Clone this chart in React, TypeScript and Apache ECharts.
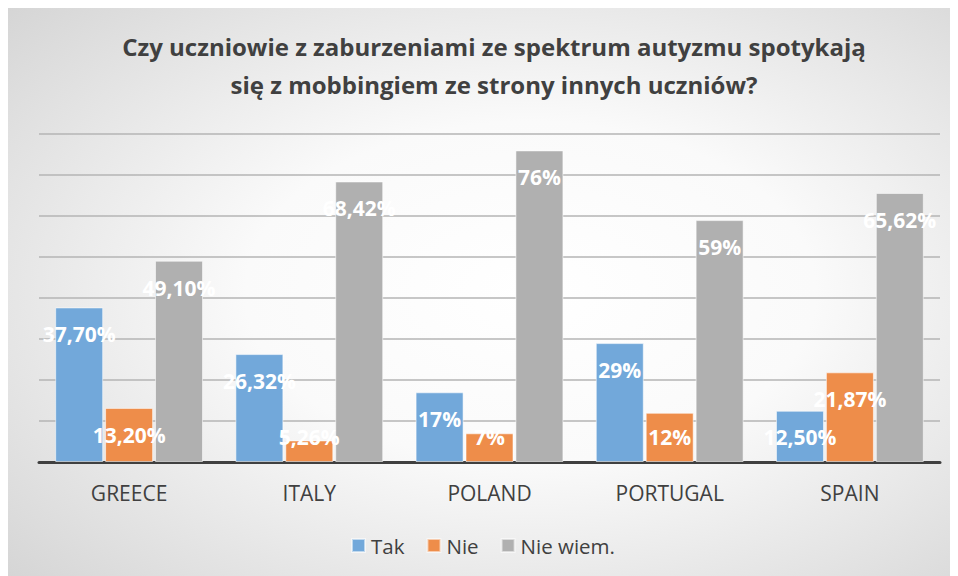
import React, { useEffect, useRef } from "react";
import * as echarts from "echarts";

const categories = ["GREECE", "ITALY", "POLAND", "PORTUGAL", "SPAIN"];
const seriesNames = ["Tak", "Nie", "Nie wiem."];
const takValues = [37.7, 26.32, 17, 29, 12.5];
const nieValues = [13.2, 5.26, 7, 12, 21.87];
const nieWiemValues = [49.1, 68.42, 76, 59, 65.62];
const colors = ["#72A8DA", "#EE8D4A", "#B0B0B0"];
const titleText =
  "Czy uczniowie z zaburzeniami ze spektrum autyzmu spotykają\nsię z mobbingiem ze strony innych uczniów?";

const FONT = "'Open Sans', 'Noto Sans', sans-serif";

const fmt = (v: number) =>
  Number.isInteger(v) ? `${v}%` : `${v.toFixed(2).replace(".", ",")}%`;

export default function App() {
  const ref = useRef<HTMLDivElement>(null);
  useEffect(() => {
    if (!ref.current) return;
    const chart = echarts.init(ref.current, undefined, { renderer: "svg" });
    const data = [takValues, nieValues, nieWiemValues];
    chart.setOption({
      animation: false,
      backgroundColor: new echarts.graphic.RadialGradient(0.55, 0.5, 1, [
        { offset: 0, color: "#ffffff" },
        { offset: 0.3, color: "#fafafa" },
        { offset: 1, color: "#c0c0c0" },
      ]),
      title: {
        text: titleText,
        left: 481,
        top: 14,
        textAlign: "center",
        textStyle: {
          fontFamily: FONT,
          fontWeight: "bold",
          fontSize: 24,
          lineHeight: 38,
          color: "#404040",
        },
      },
      legend: {
        data: seriesNames,
        bottom: 15,
        left: "center",
        itemWidth: 13,
        itemHeight: 13,
        itemGap: 22,
        icon: "rect",
        textStyle: { fontFamily: FONT, fontSize: 20.5, color: "#404040", padding: [0, 0, 0, 1] },
      },
      grid: { left: 31, right: 18, top: 126, bottom: 114, containLabel: false },
      xAxis: {
        type: "category",
        data: categories,
        axisTick: { show: false },
        axisLine: { lineStyle: { color: "#404040", width: 3 } },
        axisLabel: {
          fontFamily: FONT,
          fontSize: 21,
          color: "#404040",
          margin: 20,
        },
      },
      yAxis: {
        type: "value",
        min: 0,
        max: 80,
        interval: 10,
        axisLabel: { show: false },
        axisLine: { show: false },
        axisTick: { show: false },
        splitLine: { lineStyle: { color: "#b4b4b4", width: 1.5 } },
      },
      series: seriesNames.map((name, i) => ({
        name,
        type: "bar",
        data: data[i],
        barWidth: 48,
        barGap: "4%",
        itemStyle: {
          color: colors[i],
          borderColor: "rgba(255,255,255,0.55)",
          borderWidth: 1,
        },
        label: {
          show: true,
          position: "insideTop",
          formatter: (p: any) => fmt(p.value),
          color: "#ffffff",
          fontFamily: FONT,
          fontWeight: "bold",
          fontSize: 21,
        },
        labelLayout: (p: any) => {
          const r = p.rect;
          const cy = Math.min(r.y + 27, r.y + r.height - 25);
          return {
            x: r.x + r.width / 2,
            y: cy,
            align: "center",
            verticalAlign: "middle",
          };
        },
      })),
    });
    return () => chart.dispose();
  }, []);
  return <div ref={ref} style={{ width: 950, height: 568 }} />;
}
